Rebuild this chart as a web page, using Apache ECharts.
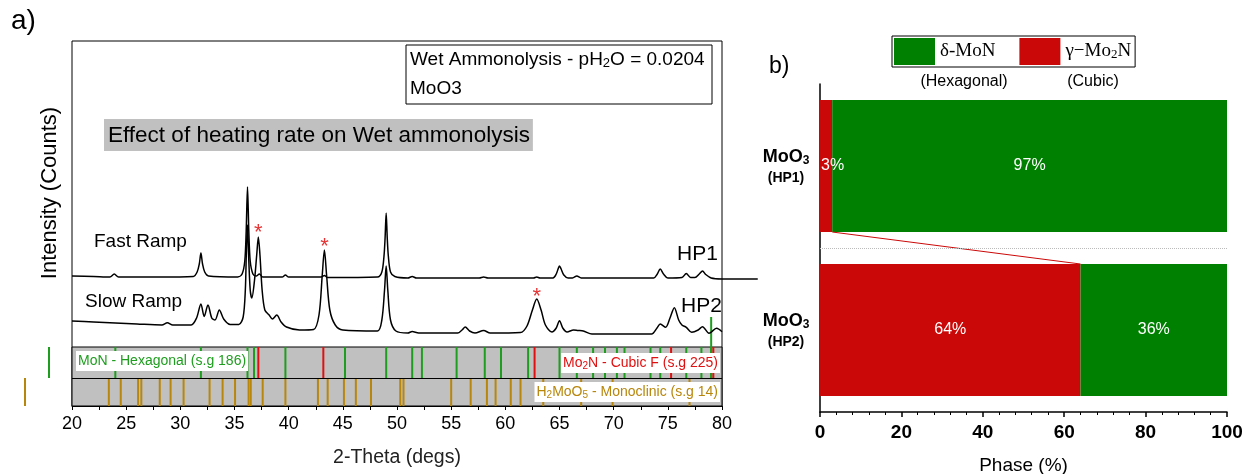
<!DOCTYPE html>
<html>
<head>
<meta charset="utf-8">
<script src="https://cdn.jsdelivr.net/npm/echarts@6/dist/echarts.min.js"></script>
<style>
  html, body { margin: 0; padding: 0; background: #fff; }
  #chart { width: 1246px; height: 474px; }
</style>
</head>
<body>
<div id="chart"></div>
<script>
var FONT = "Liberation Sans, Arial, sans-serif";
var SERIF = "Liberation Serif, Times New Roman, serif";

// a) XRD patterns, [2-theta, counts]
var hp1 = [[20,1300],[22,1295],[23.5,1290],[23.9,1320],[24.3,1290],[28,1290],[31.2,1295],[31.55,1340],[31.75,1420],[31.9,1530],[32.05,1420],[32.25,1340],[32.6,1300],
  [35.3,1290],[35.7,1320],[35.95,1450],[36.08,1750],[36.2,2190],[36.32,1750],[36.45,1450],[36.7,1320],[37.0,1300],[37.3,1320],[37.6,1290],
  [39.4,1290],[39.7,1310],[40.0,1290],[43.0,1290],[43.3,1305],[43.6,1285],[48.2,1290],[48.6,1340],[48.8,1500],[48.9,1680],[49.0,1930],[49.1,1680],[49.2,1500],[49.4,1340],[49.8,1295],
  [51.0,1280],[51.4,1295],[51.8,1280],[57.6,1280],[58.0,1290],[58.4,1280],[62.6,1280],[62.9,1290],[63.2,1280],[64.4,1280],[64.7,1320],[64.9,1380],[65.0,1400],[65.15,1370],[65.4,1310],[65.8,1280],
  [66.2,1280],[66.6,1300],[67.0,1280],[73.7,1280],[74.0,1315],[74.3,1370],[74.6,1320],[75.0,1280],[76.3,1285],[76.7,1325],[77.1,1285],[77.5,1285],[77.9,1320],[78.2,1350],[78.5,1315],[79.0,1280],[80,1270]];
var hp1Tail = [[80,1270],[83.3,1270]];

var hp2 = [[20,850],[22,840],[24,830],[26,820],[28.3,810],[28.8,833],[29.3,810],[31.0,810],[31.5,880],[31.9,1020],[32.2,895],[32.55,1010],[32.9,880],[33.2,860],[33.6,960],[34.0,870],[34.6,815],
  [35.4,815],[35.8,890],[36.0,1160],[36.1,1560],[36.2,1810],[36.3,1510],[36.45,1160],[36.6,1080],[36.85,1260],[37.05,1510],[37.2,1690],[37.35,1510],[37.55,1160],[37.8,960],[38.2,910],[38.5,870],[38.9,910],[39.3,840],[39.8,790],
  [41,760],[42.3,765],[42.8,910],[43.1,1310],[43.3,1560],[43.5,1310],[43.8,960],[44.3,810],[45,760],[48.2,750],[48.6,860],[48.85,1160],[49.0,1400],[49.15,1160],[49.4,860],[49.9,750],
  [51.0,730],[51.4,745],[52,730],[55.6,730],[56.0,760],[56.3,790],[56.7,750],[57.2,730],[58.0,755],[58.6,730],[61.4,735],[62.0,800],[62.5,960],[62.9,1070],[63.3,960],[63.7,810],[64.3,740],
  [64.7,780],[65.0,853],[65.3,780],[65.7,740],[66.3,760],[66.7,755],[67.2,750],[68,720],[73.5,720],[74.0,780],[74.3,820],[74.8,787],[75.2,880],[75.6,983],[76.0,860],[76.3,810],[76.7,787],
  [77.2,737],[77.8,760],[78.2,793],[78.8,727],[79.5,777],[80,743]];

var mo2nStars = [[37.2,1735],[43.3,1595],[62.9,1095]];

// reference patterns (peak positions, 2-theta)
var monPeaks = [24.0,31.9,36.2,36.8,39.7,45.2,49.0,51.4,52.3,55.5,58.1,59.6,62.1,65.0,66.6,68.1,69.2,70.3,71.0,73.4,74.3,76.7,78.1,79.0];
var mo2nPeaks = [37.2,43.2,62.7,75.3,79.2];
var h2moo5Peaks = [23.4,24.5,26.1,26.4,28.1,29.1,30.3,32.7,33.9,35.05,36.3,36.5,37.6,39.7,42.7,43.6,45.1,46.2,47.6,50.3,50.6,55.0,56.8,58.3,59.1,60.5,61.4,63.5,67.0,69.9,77.0];
var monTallPeak = [79.0, 890];

// b) phase fractions
var samples = ["HP1", "HP2"];
var mo2nPct = [3, 64];
var monPct = [97, 36];

var lowBand = [0, 280], highBand = [280, 590];

function sticks(list, band) {
  return list.map(function (p) { return [p, band[0], band[1]]; });
}
function stickSeries(name, data, color) {
  return {
    name: name, type: "custom", xAxisIndex: 0, yAxisIndex: 0, z: 3,
    encode: { x: 0, y: [1, 2] },
    renderItem: function (params, api) {
      var a = api.coord([api.value(0), api.value(1)]);
      var b = api.coord([api.value(0), api.value(2)]);
      return { type: "line", shape: { x1: a[0], y1: a[1], x2: b[0], y2: b[1] }, style: { stroke: color, lineWidth: 2 } };
    },
    data: data
  };
}

var barWidth = 132, bandPx = 164;
var half = barWidth / bandPx / 2;
var connector = [[mo2nPct[0], 0.5 + half], [mo2nPct[1], 1.5 - half]];

var chart = echarts.init(document.getElementById("chart"));
var option = {
  animation: false,
  textStyle: { fontFamily: FONT },
  legend: {
    left: 892, top: 36, padding: [2, 4, 2, 2], itemGap: 24,
    itemWidth: 41, itemHeight: 27, icon: "rect",
    borderColor: "#000", borderWidth: 1, selectedMode: false,
    data: ["δ-MoN", "γ−Mo2N"],
    formatter: function (n) { return n === "γ−Mo2N" ? "{n|γ−Mo}{s|2}{n|N}" : "{n|" + n + "}"; },
    textStyle: {
      color: "#000",
      rich: {
        n: { fontFamily: SERIF, fontSize: 19, color: "#000" },
        s: { fontFamily: SERIF, fontSize: 13, color: "#000", padding: [7, 0, 0, 0] }
      }
    }
  },
  grid: [
    { left: 72, top: 41, width: 650, height: 365, show: true, borderColor: "#000", borderWidth: 1, outerBoundsMode: "none" },
    { left: 820, top: 84, width: 407, height: 328, outerBoundsMode: "none" }
  ],
  xAxis: [
    {
      gridIndex: 0, type: "value", min: 20, max: 80, interval: 5,
      name: "2-Theta (degs)", nameLocation: "middle", nameGap: 42,
      nameTextStyle: { fontSize: 19.5, color: "#222", fontFamily: FONT },
      axisLine: { lineStyle: { color: "#000", width: 1 } },
      axisTick: { length: 4, lineStyle: { color: "#000" } },
      minorTick: { show: true, splitNumber: 2, length: 4, lineStyle: { color: "#000" } },
      splitLine: { show: false },
      axisLabel: { fontSize: 18, color: "#000", margin: 9, fontFamily: FONT }
    },
    {
      gridIndex: 1, type: "value", min: 0, max: 100, interval: 20,
      name: "Phase (%)", nameLocation: "middle", nameGap: 44,
      nameTextStyle: { fontSize: 19, color: "#000", fontFamily: FONT },
      axisLine: { onZero: false, lineStyle: { color: "#000", width: 1.5 } },
      axisTick: { length: 5, lineStyle: { color: "#000", width: 1.5 } },
      minorTick: { show: true, splitNumber: 5, length: 3, lineStyle: { color: "#000" } },
      splitLine: { show: false },
      axisLabel: { fontSize: 19, fontWeight: "bold", color: "#000", margin: 11, fontFamily: FONT }
    }
  ],
  yAxis: [
    { gridIndex: 0, type: "value", min: 0, max: 3650, show: false },
    {
      gridIndex: 1, type: "category", data: samples, inverse: true,
      axisLine: { lineStyle: { color: "#000", width: 1.5 } },
      axisTick: { length: 5, lineStyle: { color: "#000", width: 1.5 } },
      splitLine: { show: false },
      axisLabel: {
        margin: 34, align: "center",
        formatter: function (v) { return "{a|MoO}{s|3}\n{b|(" + v + ")}"; },
        rich: {
          a: { fontSize: 18, fontWeight: "bold", color: "#000", fontFamily: FONT, lineHeight: 24 },
          s: { fontSize: 12, fontWeight: "bold", color: "#000", fontFamily: FONT, padding: [8, 0, 0, 0], lineHeight: 24 },
          b: { fontSize: 14, fontWeight: "bold", color: "#000", fontFamily: FONT, lineHeight: 18 }
        }
      }
    },
    { gridIndex: 1, type: "value", min: 0, max: 2, inverse: true, show: false }
  ],
  series: [
    {
      name: "bands", type: "line", xAxisIndex: 0, yAxisIndex: 0, data: [], z: 1, silent: true,
      markArea: {
        silent: true,
        itemStyle: { color: "#c0c0c0", borderColor: "#000", borderWidth: 1 },
        data: [[{ coord: [20, lowBand[0]] }, { coord: [80, highBand[1]] }]]
      },
      markLine: {
        silent: true, symbol: "none", label: { show: false },
        lineStyle: { color: "#000", width: 1, type: "solid" },
        data: [{ yAxis: lowBand[1] }]
      }
    },
    stickSeries("MoN ref", sticks(monPeaks, highBand).concat([[monTallPeak[0], highBand[0], monTallPeak[1]]]), "#1e9e1e"),
    stickSeries("Mo2N ref", sticks(mo2nPeaks, highBand), "#e01010"),
    stickSeries("H2MoO5 ref", sticks(h2moo5Peaks, lowBand), "#b8860b"),
    {
      name: "HP1", type: "line", xAxisIndex: 0, yAxisIndex: 0, data: hp1, smooth: 0.3,
      symbol: "none", lineStyle: { color: "#000", width: 1.5 }, z: 4
    },
    {
      name: "HP2", type: "line", xAxisIndex: 0, yAxisIndex: 0, data: hp2, smooth: 0.3,
      symbol: "none", lineStyle: { color: "#000", width: 1.5 }, z: 4
    },
    {
      name: "stars", type: "scatter", xAxisIndex: 0, yAxisIndex: 0, data: mo2nStars,
      symbolSize: 1, itemStyle: { color: "rgba(0,0,0,0)" }, z: 5,
      label: { show: true, position: "inside", formatter: "*", color: "#e00000", fontSize: 22, fontFamily: FONT }
    },
    {
      name: "γ−Mo2N", type: "bar", xAxisIndex: 1, yAxisIndex: 1, stack: "phase", barWidth: barWidth,
      itemStyle: { color: "#cb0808" },
      label: { show: true, color: "#fff", fontSize: 16, fontFamily: FONT, formatter: "{c}%" },
      data: [{ value: mo2nPct[0], label: { position: "insideLeft", distance: 1 } }, mo2nPct[1]]
    },
    {
      name: "δ-MoN", type: "bar", xAxisIndex: 1, yAxisIndex: 1, stack: "phase", barWidth: barWidth,
      itemStyle: { color: "#008000" },
      label: { show: true, color: "#fff", fontSize: 16, fontFamily: FONT, formatter: "{c}%" },
      data: monPct
    },
    {
      name: "link", type: "line", xAxisIndex: 1, yAxisIndex: 2, data: connector,
      symbol: "none", lineStyle: { color: "#cb0808", width: 1 }, z: 4,
      markLine: {
        silent: true, symbol: "none", label: { show: false },
        lineStyle: { color: "#bbb", width: 1, type: "dotted" },
        data: [{ yAxis: 1 }]
      }
    }
  ],
  graphic: [
    { type: "text", left: 11, top: 7, style: { text: "a)", fontSize: 28, fill: "#000", fontFamily: FONT } },
    { type: "text", left: 769, top: 55, style: { text: "b)", fontSize: 23, fill: "#000", fontFamily: FONT } },
    { type: "rect", shape: { x: 406, y: 45, width: 306, height: 59 }, style: { fill: "#fff", stroke: "#000", lineWidth: 1 } },
    { type: "text", x: 410, y: 49, style: {
        text: "{n|Wet Ammonolysis - pH}{s|2}{n|O = 0.0204}",
        rich: { n: { fontSize: 19, fill: "#000", fontFamily: FONT }, s: { fontSize: 13, fill: "#000", fontFamily: FONT, padding: [8, 0, 0, 0] } } } },
    { type: "text", x: 410, y: 79, style: { text: "MoO3", fontSize: 19, fill: "#000", fontFamily: FONT } },
    { type: "text", x: 104, y: 119, style: { text: "Effect of heating rate on Wet ammonolysis", fontSize: 22.5, fill: "#000", fontFamily: FONT,
        backgroundColor: "#c0c0c0", padding: [5, 3, 4, 4] } },
    { type: "text", x: 50, y: 193, rotation: Math.PI / 2, style: { text: "Intensity (Counts)", fontSize: 22, fill: "#000", fontFamily: FONT, align: "center", verticalAlign: "middle" } },
    { type: "text", x: 94, y: 232, style: { text: "Fast Ramp", fontSize: 19, fill: "#000", fontFamily: FONT } },
    { type: "text", x: 85, y: 292, style: { text: "Slow Ramp", fontSize: 19, fill: "#000", fontFamily: FONT } },
    { type: "text", x: 677, y: 244, style: { text: "HP1", fontSize: 21, fill: "#000", fontFamily: FONT } },
    { type: "text", x: 681, y: 296, style: { text: "HP2", fontSize: 21, fill: "#000", fontFamily: FONT } },
    { type: "line", shape: { x1: 49, y1: 347, x2: 49, y2: 378 }, style: { stroke: "#1e9e1e", lineWidth: 2 } },
    { type: "line", shape: { x1: 25, y1: 378, x2: 25, y2: 406 }, style: { stroke: "#b8860b", lineWidth: 2 } },
    { type: "text", x: 76, y: 351, z: 10, style: { text: "MoN - Hexagonal (s.g 186)", fontSize: 14, fill: "#1e9e1e", fontFamily: FONT, backgroundColor: "#fff", padding: [3, 2, 3, 2] } },
    { type: "text", x: 720, y: 353, z: 10, style: {
        text: "{n|Mo}{s|2}{n|N - Cubic F (s.g 225)}", align: "right", backgroundColor: "#fff", padding: [2, 2, 2, 2],
        rich: { n: { fontSize: 14, fill: "#e01010", fontFamily: FONT }, s: { fontSize: 10, fill: "#e01010", fontFamily: FONT, padding: [6, 0, 0, 0] } } } },
    { type: "text", x: 720, y: 382, z: 10, style: {
        text: "{n|H}{s|2}{n|MoO}{s|5}{n| - Monoclinic (s.g 14)}", align: "right", backgroundColor: "#fff", padding: [2, 2, 2, 2],
        rich: { n: { fontSize: 14, fill: "#b8860b", fontFamily: FONT }, s: { fontSize: 10, fill: "#b8860b", fontFamily: FONT, padding: [6, 0, 0, 0] } } } },
    { type: "text", x: 964, y: 82, style: { text: "(Hexagonal)", fontSize: 16, fill: "#000", fontFamily: FONT, align: "center", verticalAlign: "middle" } },
    { type: "text", x: 1093, y: 82, style: { text: "(Cubic)", fontSize: 16, fill: "#000", fontFamily: FONT, align: "center", verticalAlign: "middle" } }
  ]
};
chart.setOption(option);

// HP1 trace continues past the frame: place it with the axis scale
var t0 = chart.convertToPixel({ gridIndex: 0 }, hp1Tail[0]);
var t1 = chart.convertToPixel({ gridIndex: 0 }, hp1Tail[1]);
chart.setOption({
  graphic: option.graphic.concat([
    { type: "line", shape: { x1: t0[0], y1: t0[1], x2: t1[0], y2: t1[1] }, style: { stroke: "#000", lineWidth: 1.5 } }
  ])
});
</script>
</body>
</html>
